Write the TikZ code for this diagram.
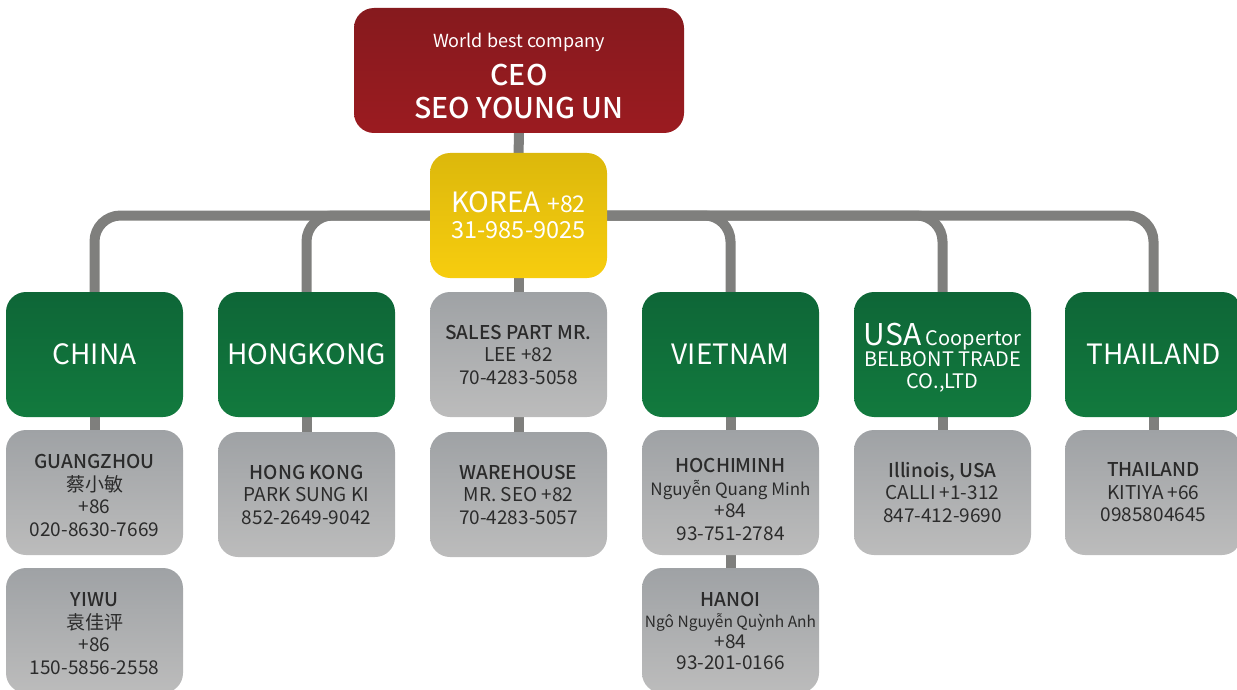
\documentclass[tikz,border=0pt]{standalone}
\usepackage{fontspec}
\setmainfont{Noto Sans CJK KR}
\newfontfamily\moyen{Noto Sans CJK KR Medium}
\newfontfamily\cjk{Noto Sans CJK SC}
\usetikzlibrary{backgrounds}

\definecolor{rougeH}{HTML}{861A1E}
\definecolor{rougeB}{HTML}{9B1B20}
\definecolor{jauneH}{HTML}{DCB80C}
\definecolor{jauneB}{HTML}{F7CD0E}
\definecolor{vertH}{HTML}{0E6637}
\definecolor{vertB}{HTML}{127A3E}
\definecolor{grisH}{HTML}{9FA2A5}
\definecolor{grisB}{HTML}{BCBCBC}
\definecolor{trait}{HTML}{7F7F7D}
\definecolor{encre}{HTML}{2B2B2B}

\tikzset{
  boite/.style={rounded corners=20pt, minimum width=177pt, minimum height=125pt,
    align=center, inner sep=0pt},
  chef/.style={boite, top color=rougeH, bottom color=rougeB, text=white,
    minimum width=330pt, font=\moyen\fontsize{28.5}{33}\selectfont},
  siege/.style={boite, top color=jauneH, bottom color=jauneB, text=white,
    font=\fontsize{28}{26}\selectfont},
  pays/.style={boite, top color=vertH, bottom color=vertB, text=white,
    font=\fontsize{28}{34}\selectfont},
  bureau/.style={boite, top color=grisH, bottom color=grisB, text=encre,
    font=\fontsize{19}{22.5}\selectfont},
  lien/.style={draw=trait, line width=10pt},
}

\begin{document}
\begin{tikzpicture}[x=1pt, y=-1pt]
  \useasboundingbox (0,0) rectangle (1237,690);

  % Direction
  \node[chef] (ceo) at (519,70.5) {\rule{0pt}{26pt}{\rmfamily\fontsize{18}{20}\selectfont World best company}\\[5pt]
    CEO\\SEO YOUNG UN};
  \node[siege] (korea) at (518.5,215.5) {KOREA {\fontsize{23}{26}\selectfont +82}\\
    {\fontsize{23.5}{26}\selectfont 31-985-9025}};

  % Pays
  \node[pays] (china) at (94.5,354.5) {CHINA};
  \node[pays] (hongkong) at (306.5,354.5) {HONGKONG};
  \node[bureau] (sales) at (518.5,354.5) {{\moyen SALES PART MR.}\\LEE +82\\70-4283-5058};
  \node[pays] (vietnam) at (730.5,354.5) {VIETNAM};
  \node[pays, font=\fontsize{20}{21.5}\selectfont] (usa) at (942.5,354.5)
    {\rule{0pt}{28pt}{\fontsize{30}{30}\selectfont USA} Coopertor\\BELBONT TRADE\\CO.,LTD};
  \node[pays] (thailand) at (1153.5,354.5) {THAILAND};

  % Bureaux
  \node[bureau] (guangzhou) at (94.5,492.5) {\rule{0pt}{20pt}{\moyen GUANGZHOU}\\{\cjk 蔡小敏}\\+86\\020-8630-7669};
  \node[bureau] (yiwu) at (94.5,630.5) {\rule{0pt}{20pt}{\moyen YIWU}\\{\cjk 袁佳评}\\+86\\150-5856-2558};
  \node[bureau] (hk) at (306.5,494.5) {{\moyen HONG KONG}\\PARK SUNG KI\\852-2649-9042};
  \node[bureau] (warehouse) at (518.5,494.5) {{\moyen WAREHOUSE}\\MR. SEO +82\\70-4283-5057};
  \node[bureau] (hochiminh) at (730.5,492.5) {\rule{0pt}{28pt}{\moyen HOCHIMINH}\\{\fontsize{17}{22.5}\selectfont Nguyễn Quang Minh}\\+84\\93-751-2784};
  \node[bureau, font=\fontsize{19}{21}\selectfont] (hanoi) at (730.5,630.5) {{\moyen HANOI}\\{\fontsize{15.5}{21}\selectfont Ngô Nguyễn Quỳnh Anh}\\+84\\93-201-0166};
  \node[bureau] (illinois) at (942.5,492.5) {{\moyen Illinois, USA}\\CALLI +1-312\\847-412-9690};
  \node[bureau] (thai) at (1153.5,492.5) {{\moyen THAILAND}\\KITIYA +66\\0985804645};

  % Liaisons
  \begin{scope}[on background layer]
    \draw[lien] (ceo) -- (korea);
    \draw[lien, rounded corners=26pt] (korea.west) -| (china.north);
    \draw[lien, rounded corners=26pt] (korea.west) -| (hongkong.north);
    \draw[lien, rounded corners=26pt] (korea.east) -| (vietnam.north);
    \draw[lien, rounded corners=26pt] (korea.east) -| (usa.north);
    \draw[lien, rounded corners=26pt] (korea.east) -| (thailand.north);
    \draw[lien] (korea) -- (sales);
    \draw[lien] (sales) -- (warehouse);
    \draw[lien] (china) -- (guangzhou);
    \draw[lien] (hongkong) -- (hk);
    \draw[lien] (vietnam) -- (hochiminh);
    \draw[lien] (hochiminh) -- (hanoi);
    \draw[lien] (usa) -- (illinois);
    \draw[lien] (thailand) -- (thai);
  \end{scope}
\end{tikzpicture}
\end{document}
